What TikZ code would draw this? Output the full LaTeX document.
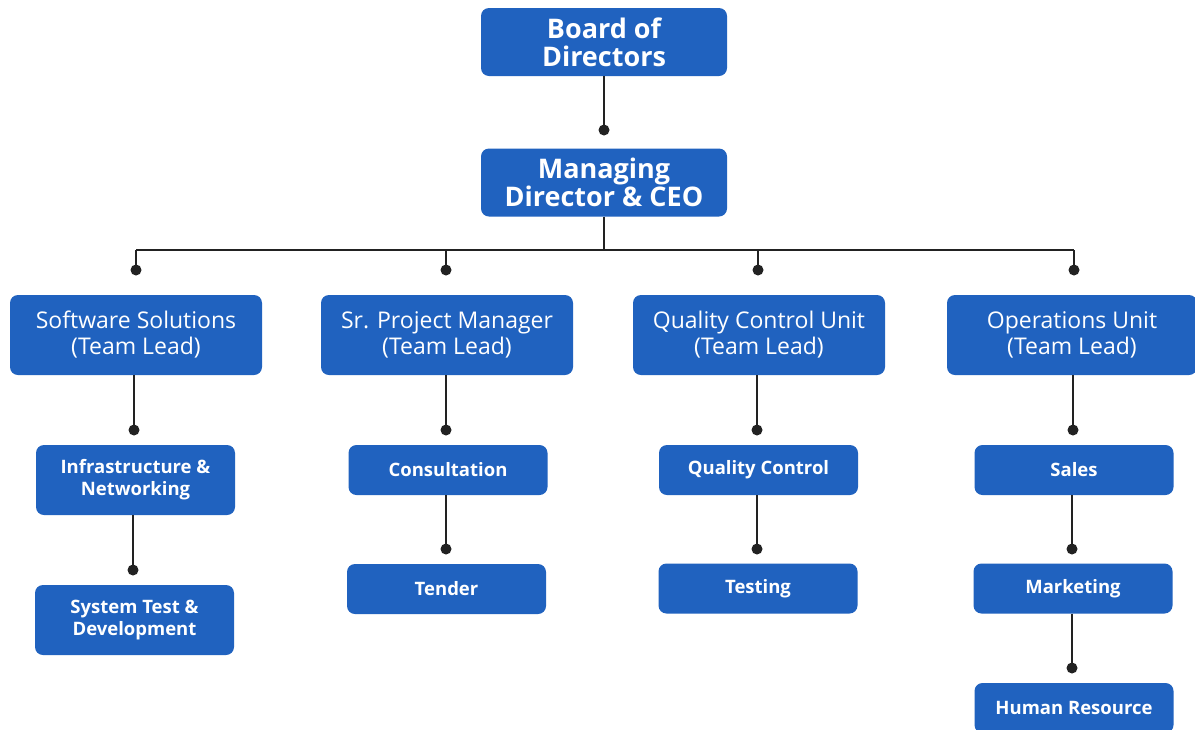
\documentclass[tikz,border=0pt]{standalone}
\usepackage{fontspec}
\setmainfont{Open Sans}
\definecolor{boxblue}{HTML}{2062BF}
\definecolor{linec}{HTML}{222222}
\begin{document}
\begin{tikzpicture}[x=1pt,y=-1pt,
  box/.style={fill=boxblue,text=white,rounded corners=8pt,align=center,inner sep=0pt},
  bigbox/.style={box,minimum width=246pt,minimum height=68pt,font=\fontsize{27}{28}\selectfont\bfseries},
  leadbox/.style={box,minimum width=252pt,minimum height=80pt,font=\fontsize{23}{26}\selectfont},
  smallbox/.style={box,minimum width=199pt,minimum height=50pt,font=\fontsize{18.5}{22}\selectfont\bfseries},
  tallbox/.style={smallbox,minimum height=70pt},
  conn/.style={draw=linec,line width=2.6pt},
  dot/.style={fill=linec}]
\useasboundingbox (0,0) rectangle (1195,729);
\fill[white] (0,0) rectangle (1195,729);
% top
\node[bigbox] (bod) at (604,42) {Board of\\Directors};
\node[bigbox] (ceo) at (604,182.5) {Managing\\Director \& CEO};
\coordinate (dceo) at (604,130);
% leads
\node[leadbox] (sw) at (136,335) {Software Solutions\\(Team Lead)};
\node[leadbox] (pm) at (447,335) {Sr. Project Manager\\(Team Lead)};
\node[leadbox] (qc) at (759,335) {Quality Control Unit\\(Team Lead)};
\node[leadbox,minimum width=250pt] (ops) at (1072,335) {Operations Unit\\(Team Lead)};
\coordinate (bus) at (604,250);
\coordinate (bsw) at (136,250);
\coordinate (bops) at (1074,250);
\coordinate (dsw) at (136,270);
\coordinate (dpm) at (446,270);
\coordinate (dqc) at (758,270);
\coordinate (dops) at (1074,270);
% row 3
\node[tallbox] (inf) at (135.5,480) {Infrastructure \&\\Networking};
\node[smallbox] (con) at (448,470) {Consultation};
\node[smallbox] (qcu) at (758.5,470) {Quality Control};
\node[smallbox] (sal) at (1074,470) {Sales};
\coordinate (dinf) at (134,430);
\coordinate (dcon) at (446,430);
\coordinate (dqcu) at (757,430);
\coordinate (dsal) at (1073,430);
% row 4
\node[tallbox] (sys) at (134.5,620) {System Test \&\\Development};
\node[smallbox] (ten) at (446.5,589) {Tender};
\node[smallbox] (tes) at (758,588.5) {Testing};
\node[smallbox] (mar) at (1073,588.5) {Marketing};
\coordinate (dsys) at (133,570);
\coordinate (dten) at (446,549);
\coordinate (dtes) at (757,549);
\coordinate (dmar) at (1072,549);
% row 5
\node[smallbox] (hr) at (1074,708) {Human Resource};
\coordinate (dhr) at (1072,668);
% connectors
\draw[conn] (bod.south) -- (dceo);
\draw[conn] (ceo.south) -- (bus);
\draw[conn] (bsw) -- (bops);
\draw[conn] (bsw) -- (dsw);
\draw[conn] (dpm |- bus) -- (dpm);
\draw[conn] (dqc |- bus) -- (dqc);
\draw[conn] (bops) -- (dops);
\draw[conn] (sw.south -| dinf) -- (dinf);
\draw[conn] (pm.south -| dcon) -- (dcon);
\draw[conn] (qc.south -| dqcu) -- (dqcu);
\draw[conn] (ops.south -| dsal) -- (dsal);
\draw[conn] (inf.south -| dsys) -- (dsys);
\draw[conn] (con.south -| dten) -- (dten);
\draw[conn] (qcu.south -| dtes) -- (dtes);
\draw[conn] (sal.south -| dmar) -- (dmar);
\draw[conn] (mar.south -| dhr) -- (dhr);
\foreach \d in {dceo,dsw,dpm,dqc,dops,dinf,dcon,dqcu,dsal,dsys,dten,dtes,dmar,dhr}
  \fill[dot] (\d) circle (5.5pt);
\end{tikzpicture}
\end{document}
